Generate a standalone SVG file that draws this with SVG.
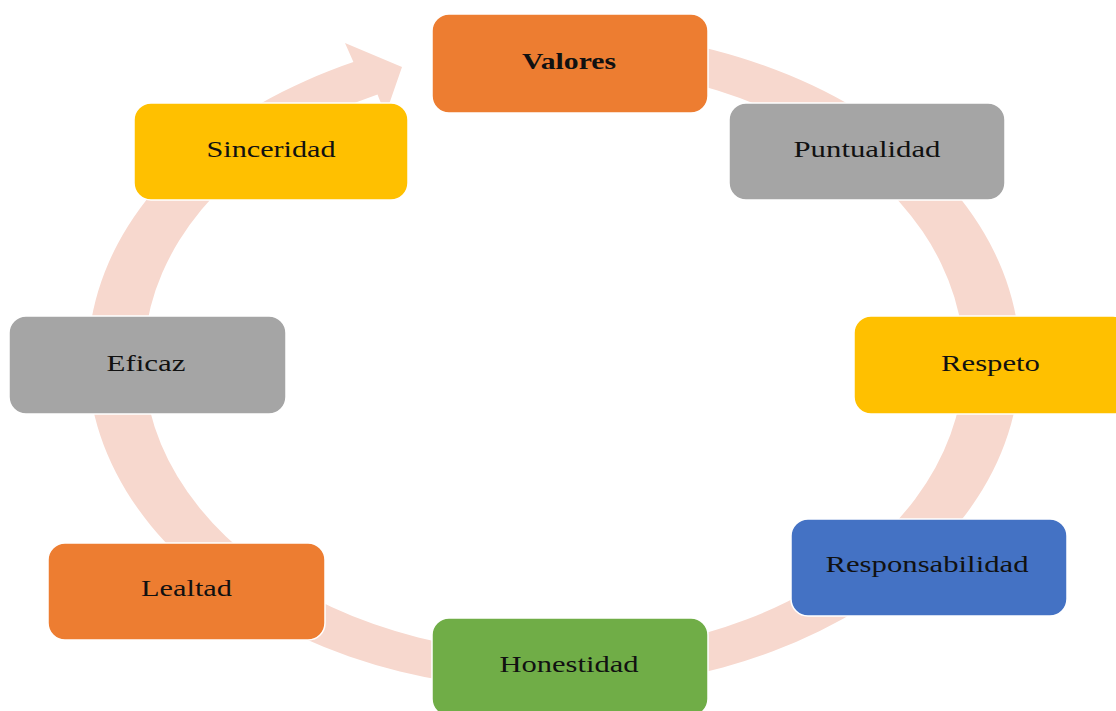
<svg xmlns="http://www.w3.org/2000/svg" width="1116" height="711" viewBox="0 0 1116 711">
  <style>
    .box { stroke: #ffffff; stroke-width: 1.5; }
    .orange { fill: #ED7D31; }
    .gray { fill: #A5A5A5; }
    .gold { fill: #FFC000; }
    .blue { fill: #4472C4; }
    .green { fill: #70AD47; }
    .label { font-family: "Liberation Serif", "Times New Roman", serif; font-size: 22.5px; fill: #111111; text-anchor: middle; }
    .bold { font-weight: bold; }
    .ring { fill: #F7D8CE; }
  </style>

  <rect x="0" y="0" width="1116" height="711" fill="#ffffff"/>

  <!-- circular arrow running clockwise behind the nodes -->
  <g id="connectors">
    <path class="ring" d="M 634.9 35.0 A 466 330 0 1 1 353.4 62.1 L 345 43 L 402 67 L 385.5 114.6 L 377.5 94.6 A 410 294 0 1 0 625.2 70.5 Z"/>
  </g>

  <g id="valores">
    <rect class="box orange" x="432" y="14" width="276" height="99" rx="17"/>
    <text class="label bold" x="569" y="69" textLength="94" lengthAdjust="spacingAndGlyphs">Valores</text>
  </g>

  <g id="puntualidad">
    <rect class="box gray" x="729" y="103" width="276" height="97" rx="17"/>
    <text class="label" x="867" y="157" textLength="147" lengthAdjust="spacingAndGlyphs">Puntualidad</text>
  </g>

  <g id="respeto">
    <rect class="box gold" x="854" y="316" width="276" height="98" rx="17"/>
    <text class="label" x="990.5" y="371" textLength="99" lengthAdjust="spacingAndGlyphs">Respeto</text>
  </g>

  <g id="responsabilidad">
    <rect class="box blue" x="791" y="519" width="276" height="97" rx="17"/>
    <text class="label" x="927" y="572" textLength="203" lengthAdjust="spacingAndGlyphs">Responsabilidad</text>
  </g>

  <g id="honestidad">
    <rect class="box green" x="432" y="618" width="276" height="98" rx="17"/>
    <text class="label" x="569" y="672" textLength="139" lengthAdjust="spacingAndGlyphs">Honestidad</text>
  </g>

  <g id="lealtad">
    <rect class="box orange" x="48" y="543" width="277" height="97" rx="17"/>
    <text class="label" x="186.5" y="596" textLength="91" lengthAdjust="spacingAndGlyphs">Lealtad</text>
  </g>

  <g id="eficaz">
    <rect class="box gray" x="9" y="316" width="277" height="98" rx="17"/>
    <text class="label" x="146" y="371" textLength="79" lengthAdjust="spacingAndGlyphs">Eficaz</text>
  </g>

  <g id="sinceridad">
    <rect class="box gold" x="134" y="103" width="274" height="97" rx="17"/>
    <text class="label" x="271" y="157" textLength="129" lengthAdjust="spacingAndGlyphs">Sinceridad</text>
  </g>
</svg>
